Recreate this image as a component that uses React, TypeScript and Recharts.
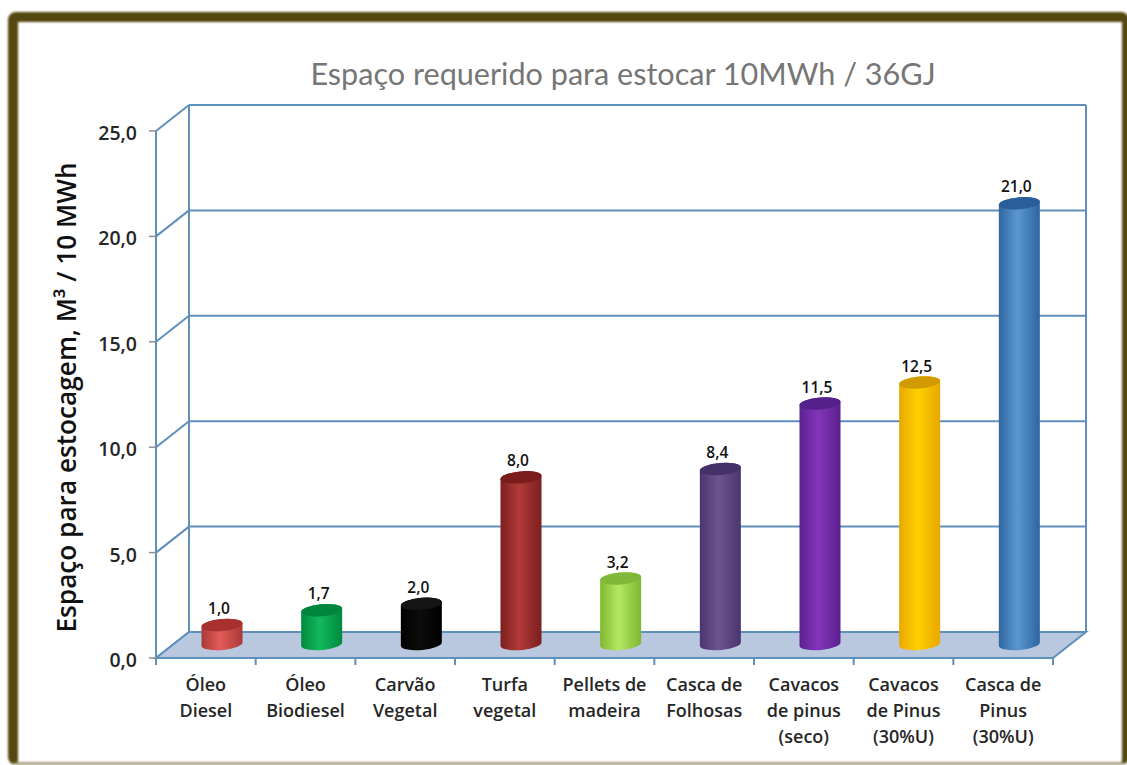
import React from 'react';
import { BarChart, Bar, XAxis, YAxis, CartesianGrid, ReferenceArea, LabelList } from 'recharts';

const categories = [
  'Óleo\nDiesel',
  'Óleo\nBiodiesel',
  'Carvão\nVegetal',
  'Turfa\nvegetal',
  'Pellets de\nmadeira',
  'Casca de\nFolhosas',
  'Cavacos\nde pinus\n(seco)',
  'Cavacos\nde Pinus\n(30%U)',
  'Casca de\nPinus\n(30%U)',
];
const values = [1.0, 1.7, 2.0, 8.0, 3.2, 8.4, 11.5, 12.5, 21.0];
const yTicks = [0, 5, 10, 15, 20, 25];

// dark edge, light centre, top cap
const barColors = [
  ['#a83a38', '#e25c58', '#a8302e'],
  ['#008a3e', '#12b85c', '#00863c'],
  ['#000000', '#0c0c0c', '#141414'],
  ['#7c1f1f', '#b03a38', '#7a1c1c'],
  ['#7fb82e', '#b4e866', '#80b83a'],
  ['#4a356e', '#6d5590', '#46306a'],
  ['#5c2090', '#8236b8', '#54208a'],
  ['#e8a800', '#ffd000', '#d09a00'],
  ['#2f659f', '#5a97d0', '#2a5e98'],
];

const chartData = categories.map((name, i) => ({ name, value: values[i] }));

const DEPTH_X = 33;
const DEPTH_Y = 26;
const LINE = '#5f8fbb';
const FONT = 'Lato, "Open Sans", sans-serif';
const LABEL_FONT = '"Open Sans", sans-serif';

const fmt = (v: number) => v.toFixed(1).replace('.', ',');

// back wall, side wall and floor, from the plot area
const Walls = ({ x, y, width, height }: any) => {
  const bottom = y + height;
  const right = x + width;
  return (
    <g fill="none" stroke={LINE} strokeWidth={2}>
      <polygon
        points={`${x},${bottom} ${x + DEPTH_X},${bottom - DEPTH_Y} ${right + DEPTH_X},${bottom - DEPTH_Y} ${right},${bottom}`}
        fill="#b9c8de"
      />
      <line x1={x + DEPTH_X} y1={y - DEPTH_Y} x2={x + DEPTH_X} y2={bottom - DEPTH_Y} />
      <line x1={right + DEPTH_X} y1={y - DEPTH_Y} x2={right + DEPTH_X} y2={bottom - DEPTH_Y} />
    </g>
  );
};

const GridLine = ({ x1, x2, y1, key }: any) => (
  <g key={`${key}-${y1}`} stroke={LINE} strokeWidth={2}>
    <line x1={x1} y1={y1} x2={x1 + DEPTH_X} y2={y1 - DEPTH_Y} />
    <line x1={x1 + DEPTH_X} y1={y1 - DEPTH_Y} x2={x2 + DEPTH_X} y2={y1 - DEPTH_Y} />
  </g>
);

const Cylinder = ({ x, y, width, height, index }: any) => {
  const left = x + DEPTH_X / 2;
  const right = left + width;
  const top = y - DEPTH_Y / 2 + 1;
  const base = y + height - DEPTH_Y / 2 - 1;
  const rx = width / 2;
  const path = [
    `M${left},${top + 2}`,
    `L${left},${base + 2}`,
    `A${rx},6 -5 0 0 ${right},${base - 2}`,
    `L${right},${top - 2}`,
    `A${rx},6 -5 0 0 ${left},${top + 2}`,
    'Z',
  ].join(' ');
  return (
    <g>
      <path d={path} fill={`url(#cyl${index})`} />
      <ellipse
        cx={left + rx}
        cy={top}
        rx={rx}
        ry={6}
        transform={`rotate(-5 ${left + rx} ${top})`}
        fill={barColors[index][2]}
      />
    </g>
  );
};

const BarValue = ({ x, y, width, value }: any) => (
  <text
    x={x + width / 2 + DEPTH_X / 2 - 3}
    y={y - DEPTH_Y / 2 - 10}
    textAnchor="middle"
    fontFamily={LABEL_FONT}
    fontSize={15.5}
    fontWeight={600}
    fill="#111"
  >
    {fmt(value)}
  </text>
);

const CategoryTick = ({ x, y, payload, index }: any) => {
  const half = payload.offset ?? 49.8;
  const lines: string[] = String(payload.value).split('\n');
  return (
    <g>
      <line x1={x - half} y1={y - 8} x2={x - half} y2={y - 1} stroke={LINE} strokeWidth={2} />
      {index === categories.length - 1 && (
        <line x1={x + half} y1={y - 8} x2={x + half} y2={y - 1} stroke={LINE} strokeWidth={2} />
      )}
      {lines.map((line, i) => (
        <text
          key={i}
          x={x}
          y={y + 25 + i * 26}
          textAnchor="middle"
          fontFamily={LABEL_FONT}
          fontSize={18}
          fontWeight={600}
          fill="#262626"
        >
          {line}
        </text>
      ))}
    </g>
  );
};

export default function App() {
  return (
    <div style={{ position: 'absolute', left: 0, top: 0, width: 1127, height: 765, overflow: 'hidden', background: '#fff' }}>
      <div
        style={{
          position: 'absolute',
          left: 8,
          top: 12,
          width: 1121,
          height: 753,
          boxSizing: 'border-box',
          borderStyle: 'solid',
          borderColor: '#54470f',
          borderWidth: '10px 7px 3px 10px',
          borderBottomColor: '#a9a285',
          borderRadius: 8,
          filter: 'blur(1px)',
        }}
      />
      <div style={{ position: 'absolute', left: 0, top: 0 }}>
        <BarChart
          width={1127}
          height={765}
          data={chartData}
          barSize={41}
          margin={{ top: 131, right: 74, bottom: 17, left: 96 }}
        >
          <defs>
            {barColors.map((c, i) => (
              <linearGradient key={i} id={`cyl${i}`} x1="0" y1="0" x2="1" y2="0">
                <stop offset="0%" stopColor={c[0]} />
                <stop offset="45%" stopColor={c[1]} />
                <stop offset="100%" stopColor={c[0]} />
              </linearGradient>
            ))}
          </defs>
          <text x={623} y={85} textAnchor="middle" fontFamily={FONT} fontSize={30.6} fill="#767676">
            Espaço requerido para estocar 10MWh / 36GJ
          </text>
          <ReferenceArea y1={0} y2={25} shape={<Walls />} />
          <CartesianGrid vertical={false} horizontal={GridLine as any} />
          <XAxis
            dataKey="name"
            height={90}
            interval={0}
            axisLine={{ stroke: LINE, strokeWidth: 2 }}
            tickLine={false}
            tick={<CategoryTick />}
          />
          <YAxis
            width={60}
            domain={[0, 25]}
            ticks={yTicks}
            tickFormatter={fmt}
            axisLine={{ stroke: LINE, strokeWidth: 2 }}
            tickLine={{ stroke: '#8a8f96', strokeWidth: 1.5 }}
            tickSize={7}
            tickMargin={12}
            tick={{ fontFamily: LABEL_FONT, fontSize: 19.5, fontWeight: 600, fill: '#262626', dy: 2 }}
            label={{
              value: 'Espaço para estocagem, M³ / 10 MWh',
              angle: -90,
              position: 'insideLeft',
              dx: -34,
              dy: 3,
              style: { fontFamily: LABEL_FONT, fontSize: 26.2, fontWeight: 600, fill: '#111', textAnchor: 'middle' },
            }}
          />
          <Bar dataKey="value" shape={<Cylinder />} isAnimationActive={false}>
            <LabelList dataKey="value" content={<BarValue />} />
          </Bar>
        </BarChart>
      </div>
    </div>
  );
}
